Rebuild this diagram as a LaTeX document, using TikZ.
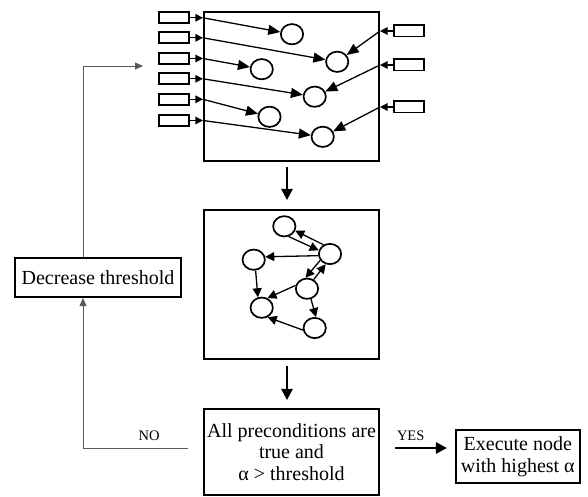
\documentclass[tikz,border=0pt]{standalone}
\usepackage{fontspec}
\setmainfont{Liberation Serif}
\usetikzlibrary{arrows.meta,shapes.geometric}

\begin{document}
\begin{tikzpicture}[x=1pt,y=-1pt,
  panel/.style={draw,line width=2.1pt,inner sep=0pt},
  txtbox/.style={panel,align=center,font=\fontsize{20}{21.5}\selectfont},
  src/.style={draw,line width=1.8pt,minimum width=30.2pt,minimum height=11.2pt,inner sep=0pt},
  unit/.style={draw,ellipse,line width=1.7pt,minimum width=22.3pt,minimum height=20.3pt,inner sep=0pt},
  feed/.style={line width=1.3pt,-{Triangle[length=7.5pt,width=7.5pt]}},
  link/.style={line width=1.3pt,-{Triangle[length=12pt,width=10pt]}},
  edge/.style={line width=1.3pt,-{Triangle[length=9pt,width=9pt]}},
  flow/.style={line width=1.2pt,-{Triangle[length=11pt,width=11.5pt]}},
  back/.style={line width=0.9pt,draw=black!65,-{Triangle[length=8pt,width=7pt]}},
  tag/.style={font=\fontsize{14.5}{16}\selectfont,anchor=base}]

\useasboundingbox (0,0) rectangle (588,497);

% ---- input stage: sources feeding the units ----
\node[panel,minimum width=175pt,minimum height=149pt] (tb) at (291.5,86.5) {};

\node[src] (r1) at (174,17.8) {};
\node[src] (r2) at (174,37.8) {};
\node[src] (r3) at (174,58.5) {};
\node[src] (r4) at (174,78.8) {};
\node[src] (r5) at (174,99.3) {};
\node[src] (r6) at (174,120.5) {};
\node[src] (r7) at (409,31) {};
\node[src] (r8) at (409,65) {};
\node[src] (r9) at (409,107) {};

\node[unit] (c1) at (292,34.2) {};
\node[unit] (c2) at (337.2,61.8) {};
\node[unit] (c3) at (261.7,69.2) {};
\node[unit] (c4) at (314.7,96.7) {};
\node[unit] (c5) at (269.5,116.8) {};
\node[unit] (c6) at (322.7,136.8) {};

\foreach \i in {1,...,6}{
  \coordinate (l\i) at (tb.west |- r\i);
  \draw[feed] (r\i.east) -- (l\i);
}
\foreach \i in {7,8,9}{
  \coordinate (l\i) at (tb.east |- r\i);
  \draw[feed] (r\i.west) -- (l\i);
}
\draw[link] (l1) -- (c1);
\draw[link] (l2) -- (c2);
\draw[link] (l3) -- (c3);
\draw[link] (l4) -- (c4);
\draw[link] (l5) -- (c5);
\draw[link] (l6) -- (c6);
\draw[link] (l7) -- (c2);
\draw[link] (l8) -- (c4);
\draw[link] (l9) -- (c6);

% ---- spreading network ----
\node[panel,minimum width=175pt,minimum height=149pt] (mb) at (291.5,284.5) {};

\node[unit] (n1) at (284.3,226.3) {};
\node[unit] (n2) at (330,254) {};
\node[unit] (n3) at (253.7,259.7) {};
\node[unit] (n4) at (307,288.7) {};
\node[unit] (n5) at (261.7,307.7) {};
\node[unit] (n6) at (314.7,328) {};

\draw[edge] (n1.-67) -- (n2.162);
\draw[edge] (n2.125) -- (n1.-22);
\draw[edge] (n2.188) -- (n3.14);
\draw[edge] (n3.-80) -- (n5.110);
\draw[edge] (n2.213) -- (n4.98);
\draw[edge] (n4.54) -- (n2.-113);
\draw[edge] (n4.164) -- (n5.59);
\draw[edge] (n4.-69) -- (n6.83);
\draw[edge] (n6.190) -- (n5.-58);

% ---- decision and actions ----
\node[txtbox,minimum width=175pt,minimum height=86pt] (low) at (291.5,452)
  {All preconditions are\\true and\\α > threshold};
\node[txtbox,minimum width=123.7pt,minimum height=52.7pt] (exe) at (517.8,456.7)
  {Execute node\\with highest α};
\node[txtbox,minimum width=166pt,minimum height=39pt] (dec) at (98,277.5)
  {Decrease threshold};

\coordinate (dx) at (287,0);
\draw[flow,shorten <=5pt,shorten >=9pt] (tb.south -| dx) -- (mb.north -| dx);
\draw[flow,shorten <=6pt,shorten >=8pt] (mb.south -| dx) -- (low.north -| dx);

\coordinate (yy) at (0,448);
\draw[flow,shorten <=15pt,shorten >=8pt] (low.east |- yy) -- (exe.west |- yy);
\node[tag] (yes) at (410.7,440) {YES};

\coordinate (nostart) at (188,448);
\draw[back] (nostart) -| ([xshift=-15pt]dec.south);
\node[tag] (no) at (149,440) {NO};

\coordinate (fbend) at (143,66);
\draw[back] ([xshift=-15pt]dec.north) |- (fbend);

\end{tikzpicture}
\end{document}
